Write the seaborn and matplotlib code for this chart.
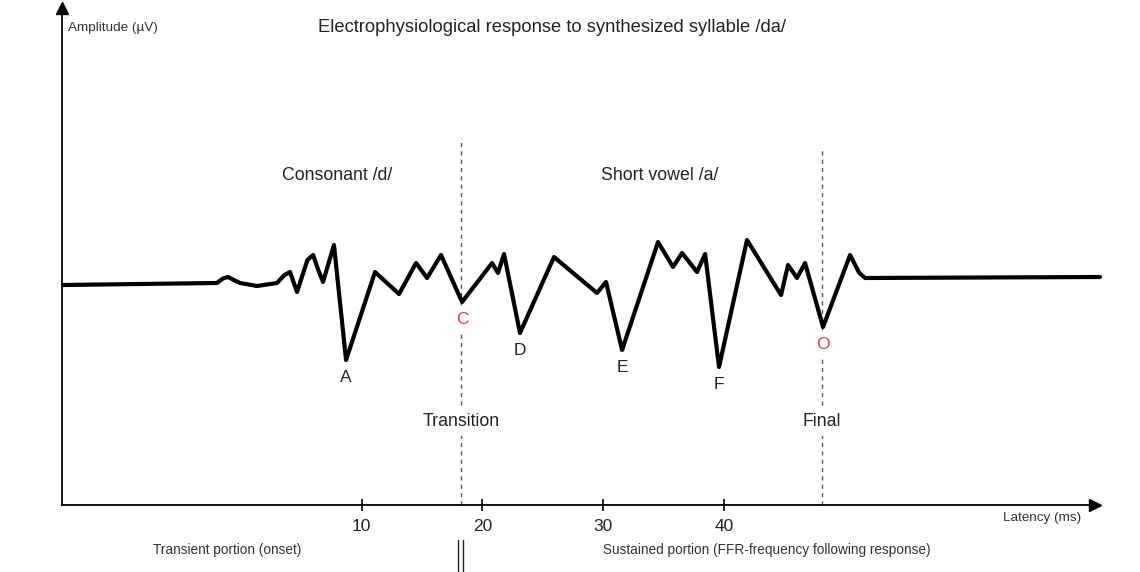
import pandas as pd
import seaborn as sns
import matplotlib.pyplot as plt

# waveform: latency (ms) and amplitude (arbitrary µV)
latency = [-14.75, -1.99, -1.50, -1.08, -0.60, -0.08, 1.33, 2.98, 3.60, 4.06,
           4.64, 5.50, 5.97, 6.40, 6.79, 7.70, 8.70, 11.10, 13.09, 14.50,
           15.41, 16.57, 18.31, 20.80, 21.29, 21.79, 23.11, 25.93, 29.49, 30.24,
           31.57, 34.55, 35.79, 36.54, 37.78, 38.45, 39.60, 41.92, 44.74, 45.32,
           46.06, 46.73, 48.22, 50.46, 51.20, 51.70, 71.17]
amplitude = [0.0, 0.04, 0.13, 0.16, 0.10, 0.04, -0.02, 0.04, 0.20, 0.26,
             -0.14, 0.50, 0.60, 0.30, 0.06, 0.80, -1.50, 0.26, -0.18, 0.44,
             0.14, 0.60, -0.34, 0.44, 0.24, 0.62, -0.96, 0.56, -0.16, 0.06,
             -1.30, 0.86, 0.36, 0.64, 0.26, 0.62, -1.64, 0.90, -0.20, 0.40,
             0.14, 0.44, -0.84, 0.60, 0.25, 0.14, 0.16]

peak_names = ["A", "C", "D", "E", "F", "O"]
peak_latency = [8.70, 18.31, 23.11, 31.57, 39.60, 48.22]
peak_amplitude = [-1.50, -0.34, -0.96, -1.30, -1.64, -0.84]
peak_colors = ["#222222", "#c9444a", "#222222", "#222222", "#222222", "#c9444a"]

ticks = [10, 20, 30, 40]
markers = [18.25, 48.15]          # transition / final dashed lines
marker_names = ["Transition", "Final"]
marker_tops = [2.95, 2.75]
segment_names = ["Consonant /d/", "Short vowel /a/"]
segment_centers = [7.95, 34.7]

x_origin, x_end = -14.83, 70.75
y_origin, y_end = -4.4, 5.55

sns.set_style("white")
plt.rcParams["font.family"] = ["Liberation Sans", "DejaVu Sans"]

fig = plt.figure(figsize=(11.4, 5.72), dpi=100)
ax = fig.add_axes([0, 0, 1, 1])
ax.set_xlim(-19.97, 74.48)
ax.set_ylim(-5.74, 5.7)

df = pd.DataFrame({"latency": latency, "amplitude": amplitude})
sns.lineplot(data=df, x="latency", y="amplitude", color="black", linewidth=3.0,
             ax=ax, estimator=None, sort=False)
ax.lines[0].set_solid_joinstyle("round")
ax.lines[0].set_solid_capstyle("round")

# axes drawn as arrows
for side in ["top", "right"]:
    ax.spines[side].set_visible(False)
ax.spines["bottom"].set_position(("data", y_origin))
ax.spines["bottom"].set_bounds(x_origin, x_end)
ax.spines["left"].set_position(("data", x_origin))
ax.spines["left"].set_bounds(y_origin, y_end)
for side in ["bottom", "left"]:
    ax.spines[side].set_color("black")
    ax.spines[side].set_linewidth(1.3)
ax.plot(x_end, y_origin, marker=">", color="black", markersize=8, clip_on=False)
ax.plot(x_origin, y_end, marker="^", color="black", markersize=8, clip_on=False)

ax.set_xticks(ticks)
ax.set_xticklabels([str(t) for t in ticks], fontsize=12.5, color="#222222")
ax.tick_params(axis="x", direction="inout", length=8, width=1.2, pad=6,
               bottom=True, color="black")
ax.set_yticks([])
ax.set_xlabel("")
ax.set_ylabel("")

for m, top, name in zip(markers, marker_tops, marker_names):
    ax.plot([m, m], [y_origin, top], color="#555555", linewidth=1.0,
            dashes=(3, 3), zorder=1)
    ax.text(m, -2.74, name, ha="center", va="center", fontsize=12.8,
            color="#222222", zorder=5,
            bbox=dict(boxstyle="square,pad=0.3", fc="white", ec="none"))

for name, t, a, c in zip(peak_names, peak_latency, peak_amplitude, peak_colors):
    ax.annotate(name, (t, a), xytext=(0, -7), textcoords="offset points",
                ha="center", va="top", fontsize=12.5, color=c, zorder=5,
                bbox=dict(boxstyle="square,pad=0.25", fc="white", ec="none"))

for name, t in zip(segment_names, segment_centers):
    ax.text(t, 2.2, name, ha="center", va="center", fontsize=12.8,
            color="#222222")

ax.text(25.77, 5.16, "Electrophysiological response to synthesized syllable /da/",
        ha="center", va="center", fontsize=13.2, color="#222222")
ax.text(-14.3, 5.14, "Amplitude (µV)", ha="left", va="center", fontsize=9.7,
        color="#333333")
ax.text(63.1, -4.66, "Latency (ms)", ha="left", va="center", fontsize=9.7,
        color="#333333")
ax.text(-7.3, -5.3, "Transient portion (onset)", ha="left", va="center",
        fontsize=9.8, color="#333333")
ax.text(30.0, -5.3, "Sustained portion (FFR-frequency following response)",
        ha="left", va="center", fontsize=9.8, color="#333333")

# double bar separating the two portions
for bx in [17.98, 18.39]:
    ax.plot([bx, bx], [-5.1, -5.74], color="#222222", linewidth=1.0)

fig.savefig("out.png", dpi=100)
